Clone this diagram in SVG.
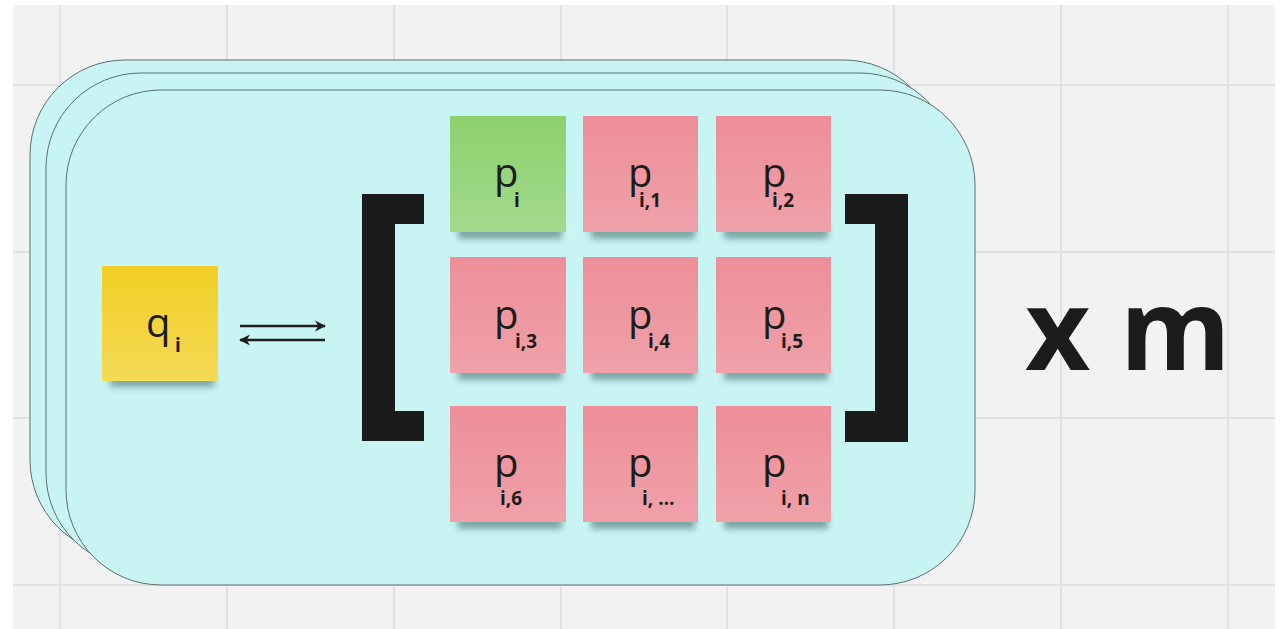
<svg xmlns="http://www.w3.org/2000/svg" width="1281" height="629" viewBox="0 0 1281 629">
<style>
.frame{fill:#c8f4f3;stroke:#5d6f6f;stroke-width:1}
.grid{stroke:#e1e1e1;stroke-width:2}
.big{font-family:"Open Sans","Liberation Sans",sans-serif;font-size:40px;fill:#1c1c1c}
.sub{font-family:"Open Sans","Liberation Sans",sans-serif;font-size:19px;font-weight:700;fill:#1c1c1c}
.brk{fill:#1b1b1b}
.arr{stroke:#1f1f1f;stroke-width:2.5;fill:none}
.xm{font-family:"Open Sans","Liberation Sans",sans-serif;font-size:113px;font-weight:700;fill:#1c1c1c}
.shd{fill:#2e5b5b;opacity:0.5}
</style>
<defs>
<linearGradient id="gy" x1="0" y1="0" x2="0" y2="1"><stop offset="0" stop-color="#f1cf25"/><stop offset="1" stop-color="#f5da56"/></linearGradient>
<linearGradient id="gg" x1="0" y1="0" x2="0" y2="1"><stop offset="0" stop-color="#8ed06d"/><stop offset="1" stop-color="#a2da8c"/></linearGradient>
<linearGradient id="gp" x1="0" y1="0" x2="0" y2="1"><stop offset="0" stop-color="#ed8e98"/><stop offset="1" stop-color="#f0a1a9"/></linearGradient>
<filter id="sh" x="-20%" y="-50%" width="140%" height="200%"><feGaussianBlur stdDeviation="3"/></filter>
<marker id="ah" viewBox="0 0 10 10" refX="9" refY="5" markerWidth="4.5" markerHeight="4.5" orient="auto"><path d="M0,0 L10,5 L0,10 L3,5 Z" fill="#1f1f1f"/></marker>
</defs>
<rect x="0" y="0" width="1281" height="629" fill="#ffffff"/>
<rect x="13" y="5" width="1262" height="624" fill="#f2f2f2"/>
<g id="grid">
<line class="grid" x1="60" y1="5" x2="60" y2="629"/>
<line class="grid" x1="227" y1="5" x2="227" y2="629"/>
<line class="grid" x1="394" y1="5" x2="394" y2="629"/>
<line class="grid" x1="561" y1="5" x2="561" y2="629"/>
<line class="grid" x1="727" y1="5" x2="727" y2="629"/>
<line class="grid" x1="894" y1="5" x2="894" y2="629"/>
<line class="grid" x1="1061" y1="5" x2="1061" y2="629"/>
<line class="grid" x1="1228" y1="5" x2="1228" y2="629"/>
<line class="grid" x1="13" y1="85" x2="1275" y2="85"/>
<line class="grid" x1="13" y1="252" x2="1275" y2="252"/>
<line class="grid" x1="13" y1="418" x2="1275" y2="418"/>
<line class="grid" x1="13" y1="585" x2="1275" y2="585"/>
</g>
<g id="frames">
<rect class="frame" x="30" y="60" width="909" height="495" rx="95" ry="95"/>
<rect class="frame" x="46" y="73" width="909" height="495" rx="95" ry="95"/>
<rect class="frame" x="66" y="90" width="909" height="495" rx="95" ry="95"/>
</g>
<g id="node-q">
<rect class="shd" x="110" y="373" width="104" height="14" filter="url(#sh)"/>
<rect x="102" y="266" width="116" height="115" fill="url(#gy)"/>
<text class="big" x="146" y="337">q<tspan class="sub" x="175" y="352">i</tspan></text>
</g>
<g id="connectors">
<line class="arr" x1="240" y1="326" x2="325" y2="326" marker-end="url(#ah)"/>
<line class="arr" x1="325" y1="340" x2="240" y2="340" marker-end="url(#ah)"/>
</g>
<g id="bracket-left"><path class="brk" d="M362,194 H424 V224 H395 V411 H424 V441 H362 Z"/></g>
<g id="bracket-right"><path class="brk" d="M908,194 H845 V224 H875 V411 H845 V442 H908 Z"/></g>
<g id="node-pi">
<rect class="shd" x="458" y="225" width="104" height="14" filter="url(#sh)"/>
<rect x="450" y="116" width="116" height="116" fill="url(#gg)"/>
<text class="big" x="494" y="187">p<tspan class="sub" x="514" y="207">i</tspan></text>
</g>
<g id="node-pi1">
<rect class="shd" x="591" y="225" width="104" height="14" filter="url(#sh)"/>
<rect x="583" y="116" width="115" height="116" fill="url(#gp)"/>
<text class="big" x="628" y="187">p<tspan class="sub" x="639" y="207">i,1</tspan></text>
</g>
<g id="node-pi2">
<rect class="shd" x="724" y="225" width="104" height="14" filter="url(#sh)"/>
<rect x="716" y="116" width="115" height="116" fill="url(#gp)"/>
<text class="big" x="762" y="187">p<tspan class="sub" x="772" y="207">i,2</tspan></text>
</g>
<g id="node-pi3">
<rect class="shd" x="458" y="366" width="104" height="14" filter="url(#sh)"/>
<rect x="450" y="257" width="116" height="116" fill="url(#gp)"/>
<text class="big" x="494" y="329">p<tspan class="sub" x="515" y="348">i,3</tspan></text>
</g>
<g id="node-pi4">
<rect class="shd" x="591" y="366" width="104" height="14" filter="url(#sh)"/>
<rect x="583" y="257" width="115" height="116" fill="url(#gp)"/>
<text class="big" x="628" y="329">p<tspan class="sub" x="648" y="348">i,4</tspan></text>
</g>
<g id="node-pi5">
<rect class="shd" x="724" y="366" width="104" height="14" filter="url(#sh)"/>
<rect x="716" y="257" width="115" height="116" fill="url(#gp)"/>
<text class="big" x="762" y="329">p<tspan class="sub" x="781" y="348">i,5</tspan></text>
</g>
<g id="node-pi6">
<rect class="shd" x="458" y="515" width="104" height="14" filter="url(#sh)"/>
<rect x="450" y="406" width="116" height="116" fill="url(#gp)"/>
<text class="big" x="494" y="477">p<tspan class="sub" x="500" y="505">i,6</tspan></text>
</g>
<g id="node-pidots">
<rect class="shd" x="591" y="515" width="104" height="14" filter="url(#sh)"/>
<rect x="583" y="406" width="115" height="116" fill="url(#gp)"/>
<text class="big" x="628" y="477">p<tspan class="sub" x="642" y="505">i, …</tspan></text>
</g>
<g id="node-pin">
<rect class="shd" x="724" y="515" width="104" height="14" filter="url(#sh)"/>
<rect x="716" y="406" width="115" height="116" fill="url(#gp)"/>
<text class="big" x="762" y="477">p<tspan class="sub" x="781" y="505">i, n</tspan></text>
</g>
<g id="label-xm"><text class="xm" x="1025" y="370">x m</text></g>
</svg>
